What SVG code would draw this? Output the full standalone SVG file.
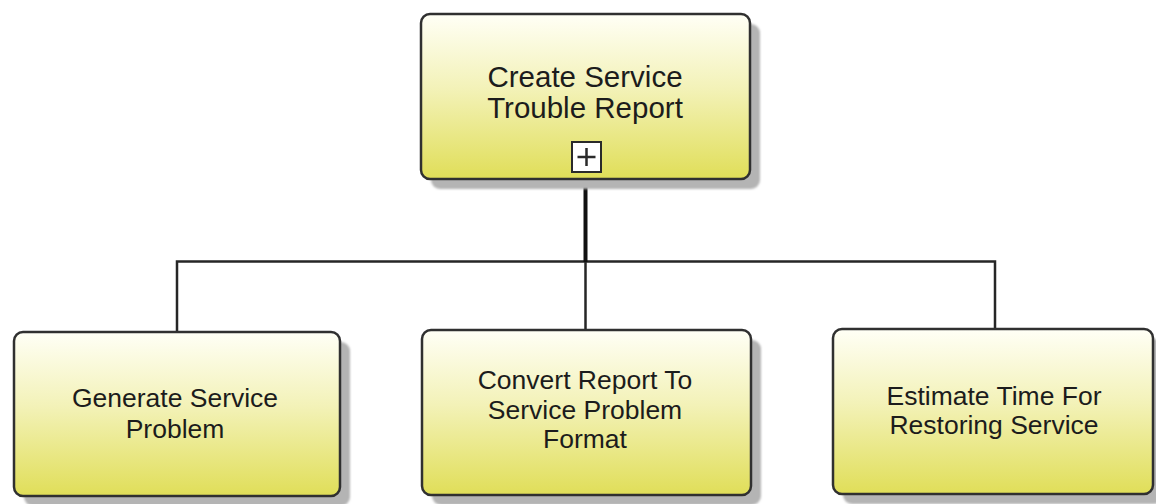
<svg xmlns="http://www.w3.org/2000/svg" width="1156" height="504" viewBox="0 0 1156 504">
  <defs>
    <linearGradient id="taskFill" x1="0" y1="0" x2="0" y2="1">
      <stop offset="0" stop-color="#fffff6"/>
      <stop offset="0.45" stop-color="#f3f2b8"/>
      <stop offset="1" stop-color="#e0de58"/>
    </linearGradient>
    <filter id="soft" x="-5%" y="-5%" width="110%" height="110%">
      <feGaussianBlur stdDeviation="1.2"/>
    </filter>
  </defs>
  <style>
    .shadow { fill: #b4b4b4; filter: url(#soft); }
    .task { fill: url(#taskFill); stroke: #303030; stroke-width: 2.5; }
    .label { font-family: "Liberation Sans", Arial, sans-serif; fill: #1c1c1c; text-anchor: middle; }
    .top-label { font-size: 29.5px; }
    .sub-label { font-size: 26.5px; }
    .link { fill: none; stroke: #262626; stroke-width: 2.5; }
    .link-main { fill: none; stroke: #111; stroke-width: 4; }
    .marker-box { fill: #ffffff; stroke: #2a2a2a; stroke-width: 2; }
    .marker-plus { stroke: #2a2a2a; stroke-width: 2.5; }
  </style>

  <!-- connectors -->
  <g id="connectors">
    <path class="link" d="M177 332 V261.5 H995 V329"/>
    <path class="link" d="M585.5 261.5 V330"/>
    <path class="link-main" d="M585.5 180 V262"/>
  </g>

  <!-- parent task -->
  <g id="create-service-trouble-report">
    <rect class="shadow" x="431" y="24" width="329" height="165" rx="9"/>
    <rect class="task" x="421" y="14" width="329" height="165" rx="9"/>
    <text class="label top-label" x="585" y="87">Create Service</text>
    <text class="label top-label" x="585" y="118">Trouble Report</text>
    <rect class="marker-box" x="572" y="142" width="29" height="30"/>
    <path class="marker-plus" d="M577.5 157 H595.5 M586.5 148 V166"/>
  </g>

  <!-- child tasks -->
  <g id="generate-service-problem">
    <rect class="shadow" x="24" y="342" width="326" height="164" rx="9"/>
    <rect class="task" x="14" y="332" width="326" height="164" rx="9"/>
    <text class="label sub-label" x="175" y="407">Generate Service</text>
    <text class="label sub-label" x="175" y="438">Problem</text>
  </g>

  <g id="convert-report">
    <rect class="shadow" x="432" y="340" width="329" height="165" rx="9"/>
    <rect class="task" x="422" y="330" width="329" height="165" rx="9"/>
    <text class="label sub-label" x="585" y="389">Convert Report To</text>
    <text class="label sub-label" x="585" y="419">Service Problem</text>
    <text class="label sub-label" x="585" y="448">Format</text>
  </g>

  <g id="estimate-restore-time">
    <rect class="shadow" x="843" y="339" width="320" height="165" rx="9"/>
    <rect class="task" x="833" y="329" width="320" height="165" rx="9"/>
    <text class="label sub-label" x="994" y="405">Estimate Time For</text>
    <text class="label sub-label" x="994" y="434">Restoring Service</text>
  </g>
</svg>
